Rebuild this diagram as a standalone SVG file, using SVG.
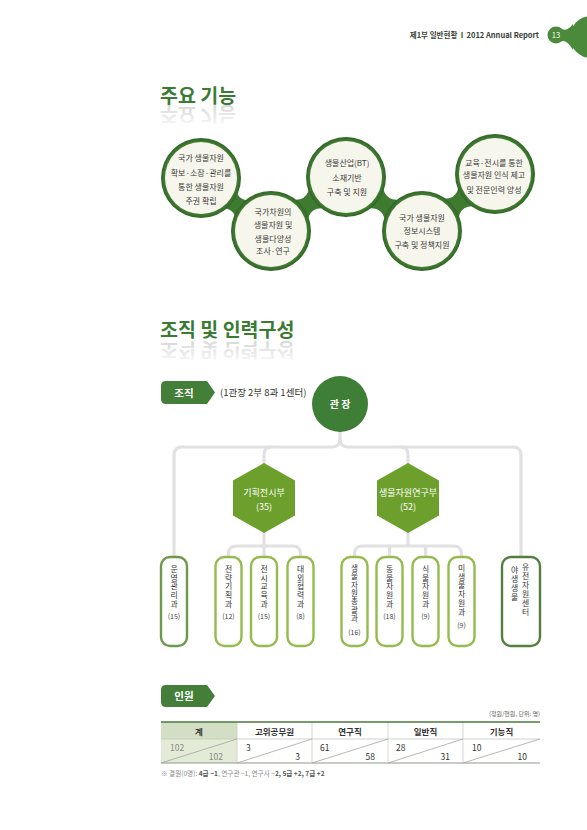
<svg xmlns="http://www.w3.org/2000/svg" xmlns:xlink="http://www.w3.org/1999/xlink" width="587" height="830" viewBox="0 0 587 830">
<style>
text{font-family:"Noto Sans CJK KR","Noto Sans",sans-serif;}
.ct{font-size:8px;fill:#3a3a3a;text-anchor:middle;}
.hx{font-size:9px;fill:#ffffff;text-anchor:middle;}
.bx{fill:#ffffff;stroke:#95bb4c;stroke-width:2.4;}
.bxd{fill:#ffffff;stroke:#557f3f;stroke-width:2.4;}
.vt{font-size:7.8px;fill:#333;writing-mode:vertical-rl;letter-spacing:0.9px;}
.vt7{font-size:7.5px;fill:#333;writing-mode:vertical-rl;letter-spacing:0.8px;}
.vt6{font-size:7.8px;fill:#333;writing-mode:vertical-rl;letter-spacing:1px;}
.vt9{font-size:7.8px;fill:#333;writing-mode:vertical-rl;letter-spacing:1.2px;}
.vn{font-size:7px;fill:#444;text-anchor:middle;}
.conn{fill:none;stroke:#e1e1e1;stroke-width:3.2;stroke-linecap:round;}
.th{font-size:8.5px;font-weight:bold;fill:#333;text-anchor:middle;}
.tv{font-size:8.5px;fill:#333;}
.tv1{font-size:8.5px;fill:#8a8a8a;}
.dg{stroke:#9a9a9a;stroke-width:0.7;}
.vl{stroke:#cccccc;stroke-width:0.8;}
.tab{fill:#447f3a;}
.tabt{font-size:10.5px;font-weight:bold;fill:#fff;text-anchor:middle;}
</style>
<defs>
<linearGradient id="fade" x1="0" y1="0" x2="0" y2="1">
<stop offset="0" stop-color="#ffffff"/>
<stop offset="1" stop-color="#d2d2d2"/>
</linearGradient>
<radialGradient id="ring" cx="0.5" cy="0.5" r="0.5">
<stop offset="0.85" stop-color="#4f8a3c"/>
<stop offset="1" stop-color="#2f6526"/>
</radialGradient>
<text id="title1" x="160" y="103" font-size="19.5" font-weight="bold">주요 기능</text>
<text id="title2" x="160" y="337" font-size="19.5" font-weight="bold">조직 및 인력구성</text>
<path id="neck" d="M -21.6 29.1 Q 0 -13.1 21.6 29.1 L 21.6 -29.1 Q 0 13.1 -21.6 -29.1 Z"/>
</defs>
<rect width="587" height="830" fill="#ffffff"/>

<!-- header -->
<g id="header">
<text x="539" y="38" font-size="7.5" font-weight="bold" fill="#3a4236" text-anchor="end">제1부 일반현황&#160;&#160;I&#160;&#160;2012 Annual Report</text>
<circle cx="556" cy="35" r="8.5" fill="#4a8a3a"/>
<path d="M 560 28 Q 566 33 573 24 L 573 50 Q 566 38 560 42 Z" fill="#4a8a3a"/>
<circle cx="591" cy="37" r="21" fill="#4a8a3a"/>
<text x="556" y="37.8" font-size="7.5" fill="#fff" text-anchor="middle">13</text>
</g>

<!-- title 1 -->
<use xlink:href="#title1" href="#title1" fill="#3a7b33"/>
<use xlink:href="#title1" href="#title1" transform="translate(0,210) scale(1,-1)" fill="url(#fade)"/>

<!-- functions circles -->
<g id="functions">
<g fill="#3f7a31">
<use xlink:href="#neck" href="#neck" transform="translate(236,204.5) rotate(37.1)"/>
<use xlink:href="#neck" href="#neck" transform="translate(308.5,204) rotate(-35.8)"/>
<use xlink:href="#neck" href="#neck" transform="translate(384,204) rotate(35.4)"/>
<use xlink:href="#neck" href="#neck" transform="translate(458.5,202.5) rotate(-38)"/>
</g>
<g id="f1"><circle cx="201" cy="178" r="40" fill="url(#ring)"/><circle cx="201" cy="178" r="36" fill="#f7f6ec"/>
<text class="ct"><tspan x="201" y="161">국가 생물자원</tspan><tspan x="201" y="175.5">확보·소장·관리를</tspan><tspan x="201" y="190">통한 생물자원</tspan><tspan x="201" y="203.5">주권 확립</tspan></text></g>
<g id="f2"><circle cx="271" cy="231" r="40" fill="url(#ring)"/><circle cx="271" cy="231" r="36" fill="#f7f6ec"/>
<text class="ct"><tspan x="273" y="214.5">국가차원의</tspan><tspan x="273" y="228">생물자원 및</tspan><tspan x="273" y="241.5">생물다양성</tspan><tspan x="273" y="254">조사·연구</tspan></text></g>
<g id="f3"><circle cx="346" cy="177" r="40" fill="url(#ring)"/><circle cx="346" cy="177" r="36" fill="#f7f6ec"/>
<text class="ct"><tspan x="347" y="166">생물산업(BT)</tspan><tspan x="347" y="180.5">소재기반</tspan><tspan x="347" y="195">구축 및 지원</tspan></text></g>
<g id="f4"><circle cx="422" cy="231" r="40" fill="url(#ring)"/><circle cx="422" cy="231" r="36" fill="#f7f6ec"/>
<text class="ct"><tspan x="422" y="221">국가 생물자원</tspan><tspan x="422" y="233.5">정보시스템</tspan><tspan x="422" y="248">구축 및 정책지원</tspan></text></g>
<g id="f5"><circle cx="495" cy="174" r="40" fill="url(#ring)"/><circle cx="495" cy="174" r="36" fill="#f7f6ec"/>
<text class="ct"><tspan x="494" y="166">교육·전시를 통한</tspan><tspan x="494" y="178">생물자원 인식 제고</tspan><tspan x="494" y="193">및 전문인력 양성</tspan></text></g>
</g>

<!-- title 2 -->
<use xlink:href="#title2" href="#title2" fill="#3a7b33"/>
<use xlink:href="#title2" href="#title2" transform="translate(0,680) scale(1,-1)" fill="url(#fade)"/>

<!-- 조직 tab -->
<g id="tab-org">
<path class="tab" d="M 166 381 H 207 L 215 392.5 L 207 404 H 166 Q 161 404 161 399 V 386 Q 161 381 166 381 Z"/>
<text class="tabt" x="184" y="396.5">조직</text>
<text x="220" y="396" font-size="9.5" fill="#333" font-family="Liberation Serif, Noto Sans CJK KR, serif">(1관장 2부 8과 1센터)</text>
</g>

<!-- connectors -->
<g id="connectors" class="conn">
<path d="M 174 557 V 455 Q 174 447 182 447 H 332 Q 340 447 340 439 V 430"/>
<path d="M 521 557 V 455 Q 521 447 513 447 H 348 Q 340 447 340 439"/>
<path d="M 264 464 V 455 Q 264 447 272 447"/>
<path d="M 408 464 V 455 Q 408 447 400 447"/>
<path d="M 228.5 557 V 554 Q 228.5 546 236.5 546 H 292.5 Q 300.5 546 300.5 554 V 557"/>
<path d="M 264 532 V 557"/>
<path d="M 354.5 557 V 554 Q 354.5 546 362.5 546 H 453.5 Q 461.5 546 461.5 554 V 557"/>
<path d="M 408 532 V 546"/>
<path d="M 389.5 546 V 557"/>
<path d="M 425.5 546 V 557"/>
</g>

<!-- director -->
<g id="director">
<circle cx="340" cy="404" r="28" fill="#3f7e37"/>
<text x="340" y="407.5" font-size="10" font-weight="bold" fill="#fff" text-anchor="middle">관 장</text>
</g>

<!-- hexagons -->
<g id="hex1">
<polygon points="264,463 295,480.5 295,515.5 264,533 233,515.5 233,480.5" fill="#6c9f2b"/>
<text class="hx"><tspan x="264" y="496">기획전시부</tspan><tspan x="264" y="510">(35)</tspan></text>
</g>
<g id="hex2">
<polygon points="408,463 439,480.5 439,515.5 408,533 377,515.5 377,480.5" fill="#6c9f2b"/>
<text class="hx"><tspan x="408" y="496">생물자원연구부</tspan><tspan x="408" y="510">(52)</tspan></text>
</g>

<!-- boxes -->
<g id="b1"><rect class="bxd" x="161" y="557" width="26" height="89" rx="9" style="stroke:#6c9a4a"/>
<text class="vt" x="174" y="565">운영관리과</text>
<text class="vn" x="174" y="619">(15)</text></g>
<g id="b2"><rect class="bx" x="215.5" y="557" width="26" height="89" rx="9"/>
<text class="vt" x="228.5" y="565">전략기획과</text>
<text class="vn" x="228.5" y="619">(12)</text></g>
<g id="b3"><rect class="bx" x="251" y="557" width="26" height="89" rx="9"/>
<text class="vt" x="264" y="565">전시교육과</text>
<text class="vn" x="264" y="619">(15)</text></g>
<g id="b4"><rect class="bx" x="287.5" y="557" width="26" height="89" rx="9"/>
<text class="vt" x="300.5" y="565">대외협력과</text>
<text class="vn" x="300.5" y="619">(8)</text></g>
<g id="b5"><rect class="bx" x="341.5" y="557" width="26" height="89" rx="9"/>
<text class="vt7" x="354.5" y="564.5">생물자원총괄과</text>
<text class="vn" x="354.5" y="634.5">(16)</text></g>
<g id="b6"><rect class="bx" x="376.5" y="557" width="26" height="89" rx="9"/>
<text class="vt" x="389.5" y="565">동물자원과</text>
<text class="vn" x="389.5" y="619">(18)</text></g>
<g id="b7"><rect class="bx" x="412.5" y="557" width="26" height="89" rx="9"/>
<text class="vt" x="425.5" y="565">식물자원과</text>
<text class="vn" x="425.5" y="619">(9)</text></g>
<g id="b8"><rect class="bx" x="448.5" y="557" width="26" height="89" rx="9"/>
<text class="vt6" x="461.5" y="564">미생물자원과</text>
<text class="vn" x="461.5" y="627.5">(9)</text></g>
<g id="b9"><rect class="bxd" x="502" y="557" width="38" height="89" rx="9"/>
<text class="vt9" x="525.5" y="563">유전자원센터</text>
<text class="vt9" x="514.5" y="566">야생생물</text></g>

<!-- 인원 tab -->
<g id="tab-staff">
<path class="tab" d="M 166 685 H 207 L 215 696 L 207 707 H 166 Q 161 707 161 702 V 690 Q 161 685 166 685 Z"/>
<text class="tabt" x="184" y="700">인원</text>
</g>
<text x="540" y="716" font-size="6" fill="#666" text-anchor="end">(정원/현원, 단위: 명)</text>

<!-- table -->
<g id="table">
<rect x="161" y="722" width="76" height="17" fill="#d3dfc4"/>
<rect x="161" y="739" width="76" height="24" fill="#e3ebd7"/>
<line x1="161" y1="739" x2="540" y2="739" stroke="#c3c9bd" stroke-width="0.8"/>
<line x1="161" y1="763" x2="540" y2="763" stroke="#8f9a8a" stroke-width="1"/>
<line class="vl" x1="237" y1="722" x2="237" y2="763"/>
<line class="vl" x1="312" y1="722" x2="312" y2="763"/>
<line class="vl" x1="388" y1="722" x2="388" y2="763"/>
<line class="vl" x1="463" y1="722" x2="463" y2="763"/>
<line x1="161" y1="722" x2="540" y2="722" stroke="#4b7a3b" stroke-width="1.6"/>
<line class="dg" x1="161" y1="763" x2="237" y2="739"/>
<line class="dg" x1="237" y1="763" x2="312" y2="739"/>
<line class="dg" x1="312" y1="763" x2="388" y2="739"/>
<line class="dg" x1="388" y1="763" x2="463" y2="739"/>
<line class="dg" x1="463" y1="763" x2="540" y2="739"/>
<text class="th" x="199" y="734.5">계</text>
<text class="th" x="274.5" y="734.5">고위공무원</text>
<text class="th" x="350" y="734.5">연구직</text>
<text class="th" x="425.5" y="734.5">일반직</text>
<text class="th" x="501.5" y="734.5">기능직</text>
<text class="tv1" x="170" y="751">102</text>
<text class="tv1" x="223" y="760" text-anchor="end">102</text>
<text class="tv" x="246" y="751">3</text>
<text class="tv" x="300" y="760" text-anchor="end">3</text>
<text class="tv" x="320" y="751">61</text>
<text class="tv" x="375" y="760" text-anchor="end">58</text>
<text class="tv" x="396" y="751">28</text>
<text class="tv" x="450" y="760" text-anchor="end">31</text>
<text class="tv" x="472" y="751">10</text>
<text class="tv" x="527" y="760" text-anchor="end">10</text>
</g>
<text x="161" y="775.5" font-size="6.6" fill="#888">※ 결원(0명): <tspan font-weight="bold" fill="#555">4급 −1</tspan>, 연구관 −1, 연구사 −<tspan font-weight="bold" fill="#555">2, 5급 +2, 7급 +2</tspan></text>
</svg>
